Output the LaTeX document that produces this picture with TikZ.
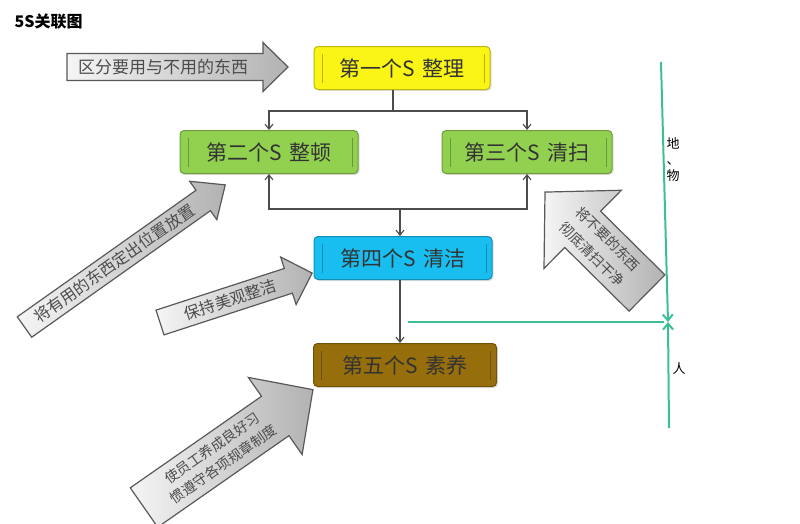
\documentclass[tikz,border=0pt]{standalone}
\usepackage{fontspec}
\setmainfont{Noto Sans CJK SC}
\usetikzlibrary{shadows, arrows.meta}

\definecolor{syellow}{RGB}{250,245,20}
\definecolor{sgreen}{RGB}{146,208,80}
\definecolor{sblue}{RGB}{25,190,240}
\definecolor{sbrown}{RGB}{150,110,12}
\definecolor{teal5s}{RGB}{60,190,150}

\tikzset{
	sbox/.style = {rectangle, rounded corners = 4pt, minimum height = 43pt,
		draw = #1!75!black, fill = #1, line width = 1pt, text = black!80,
		font = \fontsize{21}{21}\selectfont,
		drop shadow = {opacity = 0.25, shadow xshift = 1.5pt, shadow yshift = -1.5pt},
		path picture = {\draw[#1!55!black, opacity = 0.6, line width = 0.8pt]
			([xshift = 8pt, yshift = -7pt]path picture bounding box.north west) -- ([xshift = 8pt, yshift = 7pt]path picture bounding box.south west)
			([xshift = -6pt, yshift = -7pt]path picture bounding box.north east) -- ([xshift = -6pt, yshift = 7pt]path picture bounding box.south east);}},
	flow/.style = {-{Straight Barb[length = 5pt, width = 8pt]}, draw = black!70, line width = 1.1pt},
	tealline/.style = {draw = teal5s, line width = 2pt},
	tealtip/.style = {-{Straight Barb[length = 6pt, width = 10pt]}},
	fat/.style = {draw = black!65, line width = 1.2pt, line join = miter, left color = black!4, right color = black!30},
	fattext/.style = {transform shape, align = center, text = black!70, font = \fontsize{16}{18}\selectfont},
	lbl/.style = {align = center, text = black, font = \fontsize{13}{16}\selectfont}
}

\begin{document}
\begin{tikzpicture}[x = 1pt, y = -1pt]
				\useasboundingbox (0, 0) rectangle (800, 523);
				
				%	title
				\node[anchor = west, font = \fontsize{16}{16}\selectfont\bfseries] (title) at (11, 22) {5S关联图};
				
				%	boxes
				\node[sbox = syellow, minimum width = 176pt] (s1) at (402, 68) {第一个S\hspace{0.35em}整理};
				\node[sbox = sgreen, minimum width = 178pt] (s2) at (269, 152) {第二个S\hspace{0.35em}整顿};
				\node[sbox = sgreen, minimum width = 170pt] (s3) at (527, 152) {第三个S\hspace{0.35em}清扫};
				\node[sbox = sblue, minimum width = 178pt] (s4) at (403, 258) {第四个S\hspace{0.35em}清洁};
				\node[sbox = sbrown, minimum width = 183pt] (s5) at (405, 365) {第五个S\hspace{0.35em}素养};
				
				%	connectors
				\coordinate (split) at (393, 111);
				\coordinate (join) at (400, 209);
				\draw[flow, -] (split |- s1.south) -- (split);
				\draw[flow] (split) -| (s2.north);
				\draw[flow] (split) -| (s3.north);
				\draw[flow, {Straight Barb[length = 5pt, width = 8pt]}-{Straight Barb[length = 5pt, width = 8pt]}] (s2.south) |- (join) -| (s3.south);
				\draw[flow] (join) -- (join |- s4.north);
				\draw[flow] (join |- s4.south) -- (join |- s5.north);
				
				%	green lines
				\coordinate (cross) at (668, 322);
				\coordinate (wtop) at (661, 62);
				\coordinate (wbot) at (669, 428);
				\coordinate (wleft) at (408, 322);
				\draw[tealline, tealtip] (wtop) -- (cross);
				\draw[tealline, tealtip] (wbot) -- (cross);
				\draw[tealline] (wleft) -- ([xshift = -4pt]cross);
				\node[lbl] (wu) at (673, 160) {地\\、\\物};
				\node[lbl] (ren) at (679, 369) {人};
				
				%	gray arrows
				\begin{scope}[shift = {(67, 67)}]
					\draw[fat] (0, -13.5) -- (196, -13.5) -- (196, -24.5) -- (221, 0) -- (196, 24.5) -- (196, 13.5) -- (0, 13.5) -- cycle;
					\node[fattext, font = \fontsize{17}{17}\selectfont] (a1) at (96, 0) {区分要用与不用的东西};
				\end{scope}
				\begin{scope}[shift = {(24.5, 327)}, rotate = 35.3]
					\draw[fat] (0, -12.5) -- (219, -12.5) -- (219, -23.5) -- (246, 0) -- (219, 23.5) -- (219, 12.5) -- (0, 12.5) -- cycle;
					\node[fattext] (a2) at (110, 0) {将有用的东西定出位置放置};
				\end{scope}
				\begin{scope}[shift = {(160, 322.5)}, rotate = 18]
					\draw[fat] (0, -13) -- (135, -13) -- (135, -25) -- (160, 0) -- (135, 25) -- (135, 13) -- (0, 13) -- cycle;
					\node[fattext] (a3) at (74, 0) {保持美观整洁};
				\end{scope}
				\begin{scope}[shift = {(144, 507.5)}, rotate = 34.9]
					\draw[fat] (0, -24) -- (160, -24) -- (160, -47) -- (206, 0) -- (160, 47) -- (160, 24) -- (0, 24) -- cycle;
					\node[fattext, font = \fontsize{14}{20}\selectfont] (a4) at (90, 0) {使员工养成良好习\\惯遵守各项规章制度};
				\end{scope}
				\begin{scope}[shift = {(647, 293)}, rotate = 135.3]
					\draw[fat] (0, -25.5) -- (90.5, -25.5) -- (90.5, -55) -- (143.5, 0) -- (90.5, 55) -- (90.5, 25.5) -- (0, 25.5) -- cycle;
					\node[fattext, rotate = 180, font = \fontsize{14}{22}\selectfont] (a5) at (66, 0) {将不要的东西\\彻底清扫干净};
				\end{scope}
\end{tikzpicture}
\end{document}
